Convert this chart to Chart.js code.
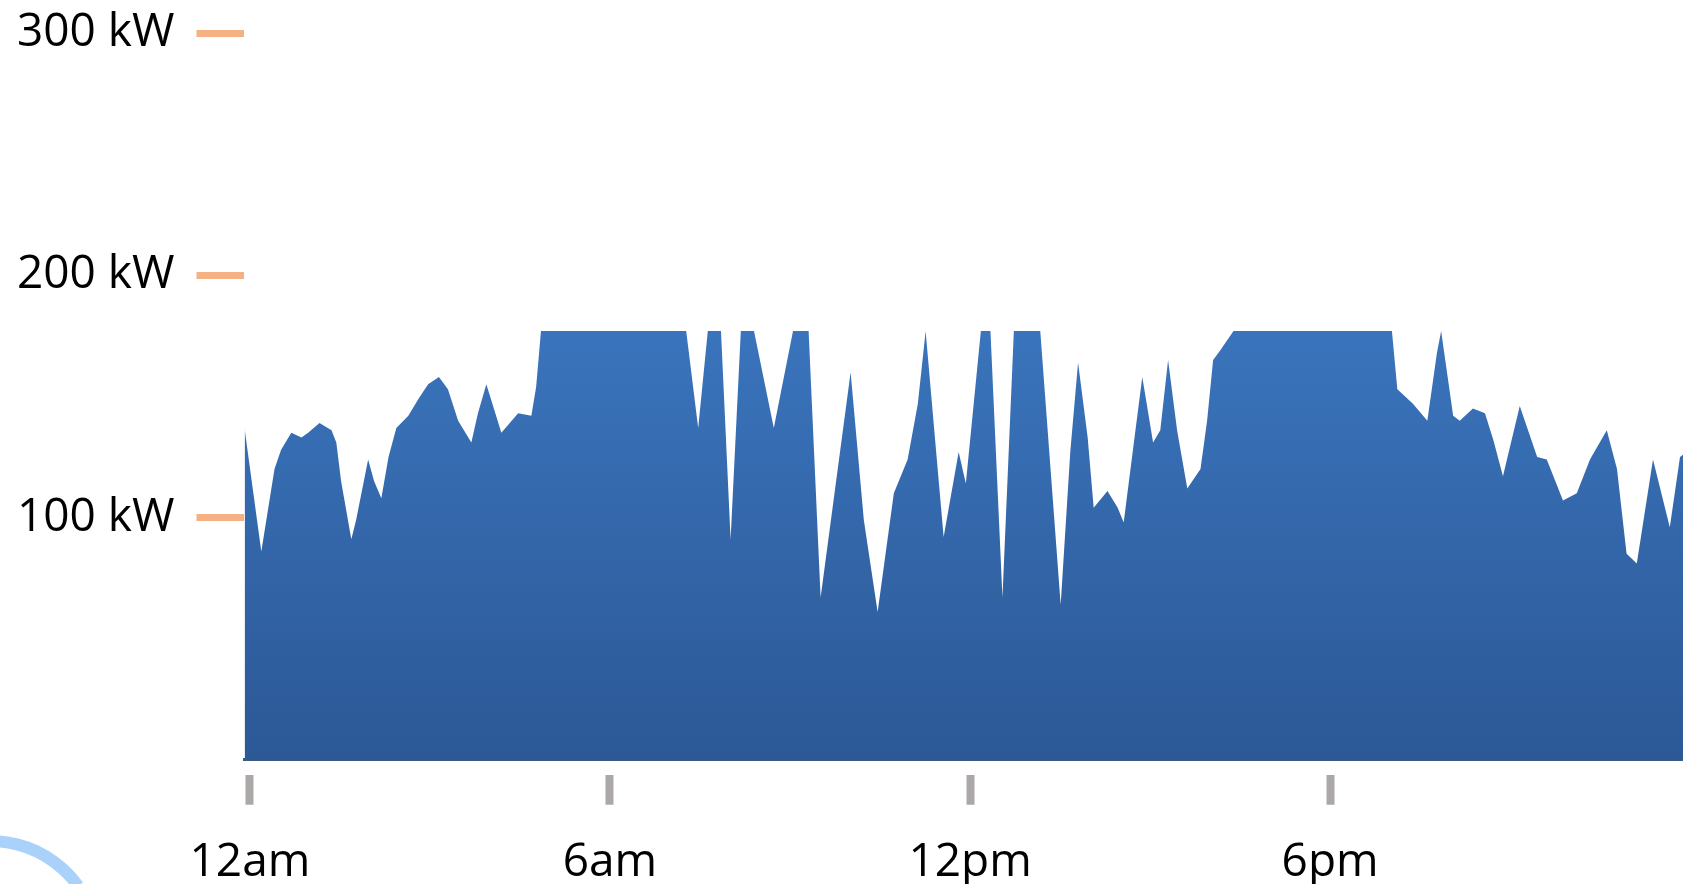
<!DOCTYPE html>
<html>
<head>
<meta charset="utf-8">
<script src="https://cdn.jsdelivr.net/npm/chart.js@4"></script>
<style>
  html, body { margin: 0; padding: 0; background: #fff; }
  #wrap { width: 1683px; height: 884px; }
</style>
</head>
<body>
<div id="wrap"><canvas id="demand" width="1683" height="884"></canvas></div>
<script>
// hours after midnight
var hours = [-0.09, 0.19, 0.41, 0.52, 0.69, 0.86, 0.97, 1.16, 1.36, 1.44, 1.52, 1.69, 1.77, 1.97, 2.07,
  2.19, 2.31, 2.44, 2.64, 2.81, 2.97, 3.15, 3.30, 3.47, 3.69, 3.80, 3.94, 4.19, 4.47, 4.69, 4.77, 4.85,
  7.27, 7.47, 7.63, 7.85, 8.01, 8.18, 8.40, 8.73, 9.05, 9.31, 9.51, 10.01, 10.23, 10.46, 10.73, 10.96,
  11.13, 11.26, 11.39, 11.56, 11.81, 11.93, 12.18, 12.34, 12.54, 12.73, 13.17, 13.51, 13.67, 13.80,
  13.96, 14.06, 14.29, 14.46, 14.56, 14.72, 14.87, 15.05, 15.17, 15.30, 15.45, 15.62, 15.84, 15.95,
  16.05, 16.17, 16.39, 19.03, 19.12, 19.38, 19.62, 19.78, 19.85, 20.05, 20.16, 20.38, 20.58, 20.72,
  20.88, 21.16, 21.45, 21.61, 21.88, 22.11, 22.33, 22.61, 22.78, 22.94, 23.11, 23.38, 23.66, 23.83, 24.0];

// demand in kW (the picture is cut flat at about 177 kW)
var kw = [137, 86, 120, 128, 135, 133, 135, 139, 136, 131, 115, 91, 99, 124, 115,
  108, 125, 137, 142, 149, 155, 158, 153, 140, 131, 143, 155, 135, 143, 142, 154, 177,
  177, 137, 177, 177, 91, 177, 177, 137, 177, 177, 67, 160, 99, 61, 110, 124,
  147, 177, 140, 92, 127, 114, 177, 177, 67, 177, 177, 64, 127, 164,
  133, 104, 111, 104, 98, 129, 158, 131, 136, 165, 136, 112, 120, 140,
  165, 169, 177, 177, 153, 147, 140, 168, 177, 142, 140, 145, 143, 132,
  117, 146, 125, 124, 107, 110, 124, 136, 120, 85, 81, 124, 96, 125, 128];

var xTicks = [0, 6, 12, 18];
var xTickLabels = ['12am', '6am', '12pm', '6pm'];
var yTicks = [100, 200, 300];

var points = hours.map(function(h, i) { return { x: h, y: kw[i] }; });

function areaFill(context) {
  var chart = context.chart;
  if (!chart.chartArea) return '#3468ac';
  var y = chart.scales.y;
  var g = chart.ctx.createLinearGradient(0, y.getPixelForValue(177), 0, y.getPixelForValue(0));
  g.addColorStop(0, 'rgb(58,116,188)');
  g.addColorStop(1, 'rgb(44,88,150)');
  return g;
}

// the light blue ring cut off at the bottom left corner
var cornerRing = {
  id: 'cornerRing',
  afterDraw: function(chart) {
    var c = chart.ctx;
    c.save();
    c.strokeStyle = '#a9d1fa';
    c.lineWidth = 12;
    c.beginPath();
    c.arc(-10, 950, 109, Math.PI * 1.2, Math.PI * 1.8);
    c.stroke();
    c.restore();
  }
};

var font = { family: 'Open Sans', size: 46 };

var ctx = document.getElementById('demand').getContext('2d');
var demand = new Chart(ctx, {
  type: 'line',
  data: {
    datasets: [{
      data: points,
      fill: 'origin',
      backgroundColor: areaFill,
      borderWidth: 0,
      pointRadius: 0,
      tension: 0
    }]
  },
  options: {
    responsive: false,
    animation: false,
    devicePixelRatio: 1,
    layout: { padding: { top: 33, left: -5, right: 0, bottom: -36 } },
    plugins: { legend: { display: false }, tooltip: { enabled: false } },
    scales: {
      x: {
        type: 'linear',
        min: -0.09,
        max: 23.88,
        afterBuildTicks: function(axis) {
          axis.ticks = xTicks.map(function(v) { return { value: v }; });
        },
        afterFit: function(axis) {
          axis.paddingLeft = 0;
          axis.paddingRight = 0;
        },
        ticks: {
          callback: function(v) { return xTickLabels[xTicks.indexOf(v)]; },
          font: font,
          color: '#000',
          padding: 30,
          maxRotation: 0,
          autoSkip: false
        },
        grid: {
          drawOnChartArea: false,
          tickLength: 45,
          tickWidth: 8,
          tickColor: '#aca8a8',
          tickBorderDash: [0, 14, 30, 999]
        },
        border: { display: true, color: '#3b5a80', width: 3 }
      },
      y: {
        min: 0,
        max: 300,
        afterBuildTicks: function(axis) {
          axis.ticks = yTicks.map(function(v) { return { value: v }; });
        },
        afterFit: function(axis) {
          // let the 300 kW label stick out above the plot instead of pushing it down
          axis.paddingTop = 0;
        },
        ticks: {
          callback: function(v) { return v + ' kW'; },
          font: font,
          color: '#000',
          padding: 22
        },
        grid: {
          drawOnChartArea: false,
          tickLength: 48,
          tickWidth: 7,
          tickColor: '#f4b183'
        },
        border: { display: false }
      }
    }
  },
  plugins: [cornerRing]
});
</script>
</body>
</html>
